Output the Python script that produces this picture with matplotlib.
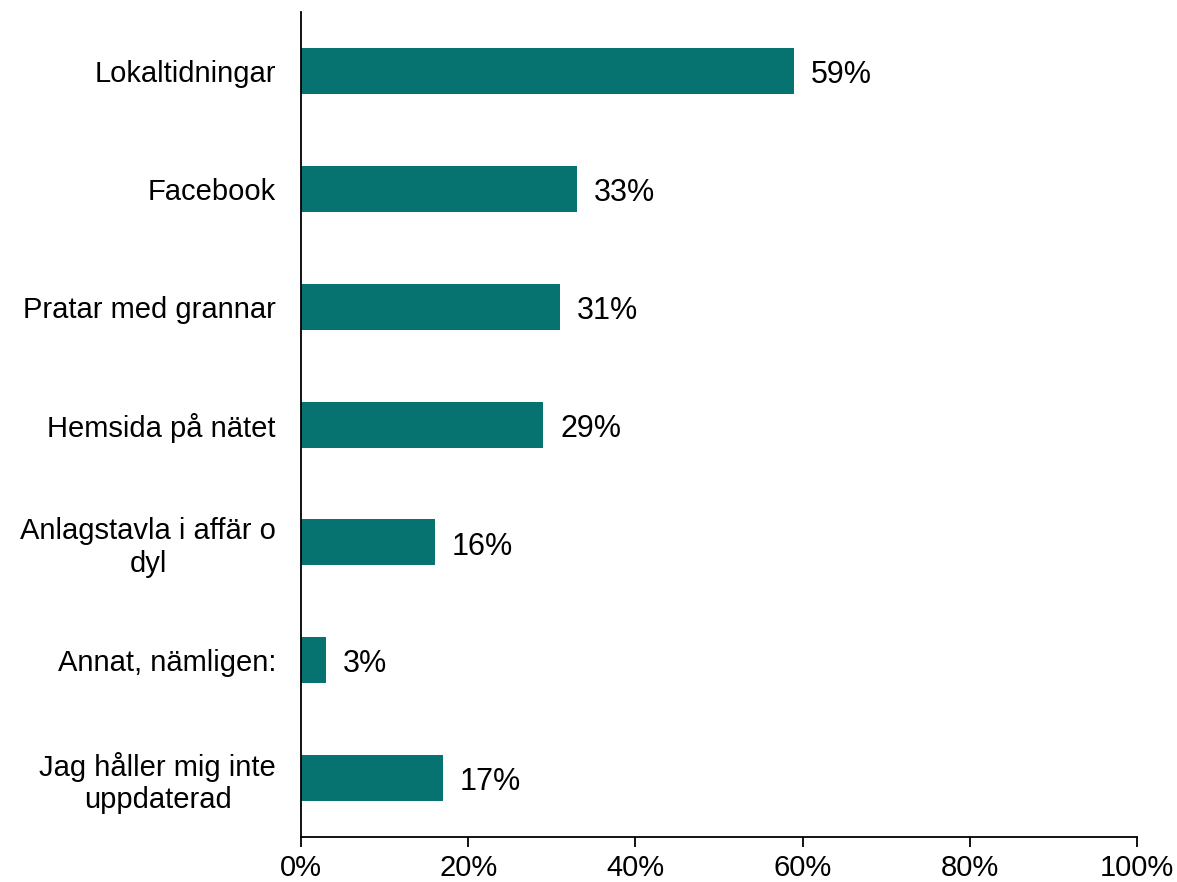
import matplotlib

matplotlib.use("Agg")
import matplotlib.pyplot as plt
from matplotlib.ticker import PercentFormatter

CATEGORIES = [
    "Lokaltidningar",
    "Facebook",
    "Pratar med grannar",
    "Hemsida på nätet",
    "Anlagstavla i affär o\ndyl",
    "Annat, nämligen:",
    "Jag håller mig inte\nuppdaterad",
]
SHARES = [59, 33, 31, 29, 16, 3, 17]
X_TICKS = [0, 20, 40, 60, 80, 100]

BAR_COLOR = "#077370"

plt.rcParams["font.family"] = ["Liberation Sans", "DejaVu Sans"]

fig = plt.figure(figsize=(11.77, 8.82), dpi=100)
ax = fig.add_axes([0.2557, 0.051, 0.7103, 0.9353])

y = list(range(len(CATEGORIES)))
bars = ax.barh(y, SHARES, height=0.39, color=BAR_COLOR)

# value labels just right of each bar
for bar, v in zip(bars, SHARES):
    ax.annotate(f"{v}%", xy=(bar.get_width(), bar.get_y() + bar.get_height() / 2),
                xytext=(12, -3), textcoords="offset points",
                ha="left", va="center", fontsize=22)

ax.set_xlim(0, 100)
ax.set_ylim(len(CATEGORIES) - 0.5, -0.5)
ax.set_xticks(X_TICKS)
ax.xaxis.set_major_formatter(PercentFormatter(decimals=0))
ax.set_yticks(y)
ax.set_yticklabels(CATEGORIES, multialignment="center", linespacing=1.2)

for side in ("top", "right"):
    ax.spines[side].set_visible(False)
for side in ("left", "bottom"):
    ax.spines[side].set_linewidth(1.3)

ax.tick_params(axis="y", length=0, pad=18, labelsize=21)
ax.tick_params(axis="x", length=7, width=1.3, pad=5, labelsize=21, direction="out")

fig.savefig("out.png", dpi=100)
